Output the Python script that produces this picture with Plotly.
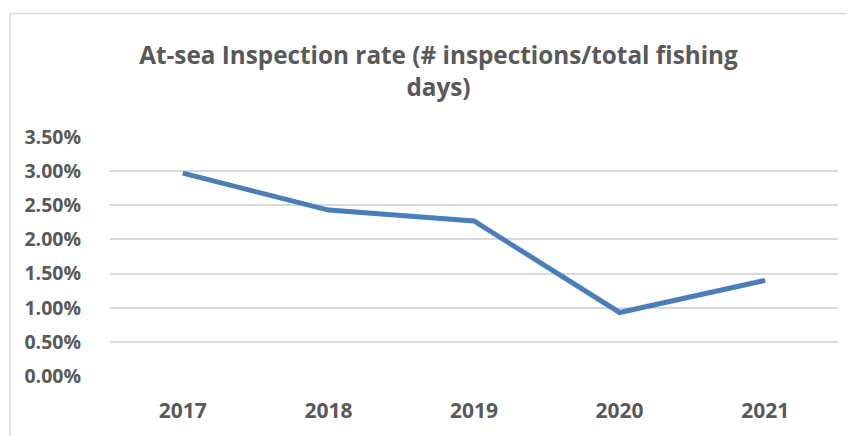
import plotly.graph_objects as go

years = ["2017", "2018", "2019", "2020", "2021"]
rates = [0.0297, 0.0243, 0.0227, 0.0093, 0.0140]
y_ticks = [0, 0.005, 0.01, 0.015, 0.02, 0.025, 0.03, 0.035]
title_lines = ["At-sea Inspection rate (# inspections/total fishing", "days)"]

# page has an 8px body margin, so the figure is drawn 8px smaller and shifted
W, H = 847, 428
ml, mr, mt, mb = 102, 17, 129, 55
pw, ph = W - ml - mr, H - mt - mb

fig = go.Figure()
fig.add_trace(go.Scatter(
    x=years, y=rates, mode="lines",
    line=dict(color="#4A7EBB", width=5),
    hoverinfo="skip",
))

font_family = "Open Sans, Liberation Sans, sans-serif"
fig.update_layout(
    width=W, height=H,
    margin=dict(l=ml, r=mr, t=mt, b=mb),
    paper_bgcolor="white", plot_bgcolor="white",
    showlegend=False,
    title=dict(
        text="<br>".join("<b>%s</b>" % t for t in title_lines),
        x=(430.5 - ml) / pw, xref="paper", xanchor="center",
        y=1 - 56 / H, yanchor="middle",
        font=dict(family=font_family, size=24.3, color="#595959"),
    ),
    xaxis=dict(
        type="category", range=[-0.5, 4.5],
        showgrid=False, zeroline=False, showline=False, ticks="",
        tickfont=dict(family=font_family, size=21, color="#595959", weight="bold"),
        ticklabelstandoff=20,
    ),
    yaxis=dict(
        range=[0, 0.035], tickvals=y_ticks, tickformat=".2%",
        showgrid=True, gridcolor="#D9D9D9", gridwidth=1.5,
        zeroline=False, showline=False, ticks="",
        tickfont=dict(family=font_family, size=19.5, color="#595959", weight="bold"),
        ticklabelstandoff=28,
    ),
)

# chart-area border (left and top edges visible)
bx = (2 - ml) / pw
by = (H - mb - 3) / ph
fig.add_shape(type="line", xref="paper", yref="paper", x0=bx, x1=bx, y0=by, y1=-1,
              line=dict(color="#D9D9D9", width=1.5))
fig.add_shape(type="line", xref="paper", yref="paper", x0=bx, x1=2, y0=by, y1=by,
              line=dict(color="#D9D9D9", width=1.5))

fig.write_html("out.html")
